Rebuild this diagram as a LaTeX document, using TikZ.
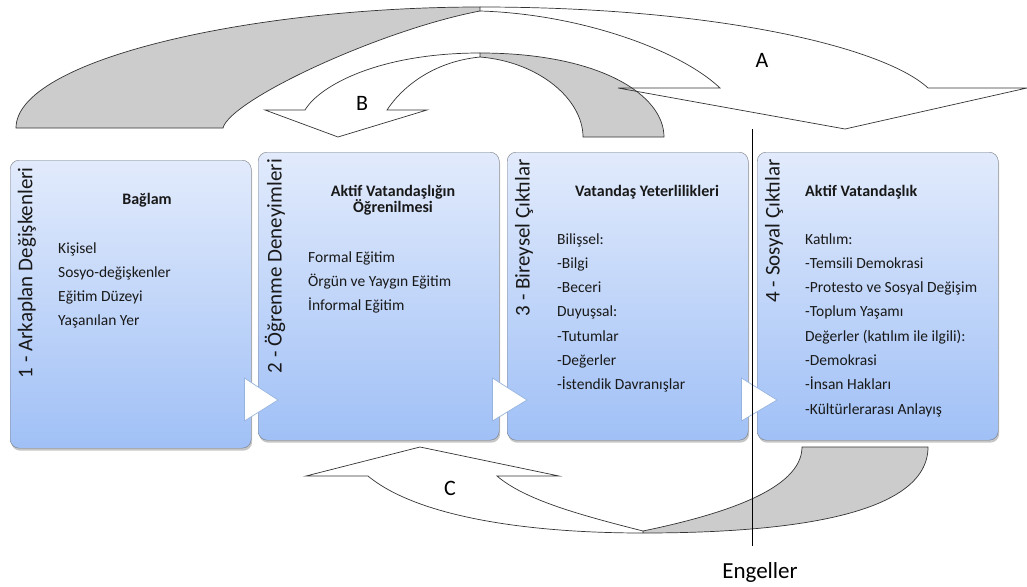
\documentclass[tikz,border=0pt]{standalone}
\usepackage{fontspec}
\setmainfont{Carlito}
\usepackage{tikz}
\usetikzlibrary{math,calc,shadows}
\definecolor{BoxTop}{RGB}{226,235,252}
\definecolor{BoxBottom}{RGB}{160,192,246}
\definecolor{BoxEdge}{RGB}{120,124,132}
\definecolor{ChevEdge}{RGB}{150,180,222}
\colorlet{textfg}{black!90}
\tikzset{%
  stage box/.style={draw=BoxEdge, rounded corners=9pt, top color=BoxTop,
    bottom color=BoxBottom, minimum width=241pt, minimum height=288pt,
    anchor=north west, inner sep=0pt,
    drop shadow={shadow xshift=1pt, shadow yshift=-2.5pt, opacity=0.45}},
  stage label/.style={rotate=90, anchor=east, inner sep=0pt, text=textfg,
    font=\fontsize{21}{25}\selectfont},
  box head/.style={inner sep=0pt, text height=10pt, text depth=0pt, text=textfg,
    font=\fontsize{16}{19}\selectfont\bfseries},
  box item/.style={anchor=west, inner sep=0pt, text height=10pt, text depth=0pt,
    text=textfg, font=\fontsize{15.5}{19}\selectfont},
  chevron/.style={fill=white, draw=ChevEdge, line width=0.7pt},
  back arc/.style={fill=gray!40, draw=black!80, line width=0.7pt},
  front arc/.style={draw=black!80, line width=0.7pt},
  arc letter/.style={inner sep=0pt, font=\fontsize{22}{22}\selectfont}
}

\begin{document}
\begin{tikzpicture}[x=1pt, y=-1pt]
  \useasboundingbox (0,0) rectangle (1027,586);
  \tikzmath{
    \dy=24.3; % line step in the boxes
    \back=7;  % chevron overlap into the left box
    \tip=20;  % chevron tip into the right box
  }
  % Arrow A:
  \draw[back arc] (16,128) .. controls (16,60) and (250,7) .. (480,7)
    -- (480,11) .. controls (380,30) and (230,100) .. (223,128) -- cycle;
  % Arrow B:
  \draw[back arc] (480,53) .. controls (600,53) and (664,95) .. (664,137)
    -- (583,137) .. controls (583,100) and (540,62) .. (480,57) -- cycle;
  \draw[front arc] (480,53) .. controls (380,53) and (320,85) .. (305,110)
    -- (265,110) -- (338,137) -- (427,110) -- (387,110)
    .. controls (400,90) and (430,62) .. (480,57);
  \draw[front arc] (480,7) .. controls (720,7) and (885,48) .. (928,88)
    -- (1027,88) -- (845,129) -- (618,88) -- (720,88)
    .. controls (680,50) and (580,14) .. (480,11);
  \node[arc letter] (labA) at (762,60) {A};
  \node[arc letter] (labB) at (362,103) {B};

  % Stages
  \node[stage box] (box1) at (10,160) {};
  \node[stage box] (box2) at (258,152) {};
  \node[stage box] (box3) at (507,152) {};
  \node[stage box] (box4) at (757,152) {};
  \foreach \a/\b in {box1/box2, box2/box3, box3/box4} {
    \draw[chevron] ($(\a.east |- 0,378)+(-\back,0)$) -- ($(\b.west |- 0,400)+(\tip,0)$)
      -- ($(\a.east |- 0,421)+(-\back,0)$) -- cycle;
  }
  \foreach \b/\t in {box1/1 - Arkaplan Değişkenleri, box2/2 - Öğrenme Deneyimleri,
                     box3/3 - Bireysel Çıktılar, box4/4 - Sosyal Çıktılar} {
    \node[stage label] (\b-label) at ($(\b.north west)+(17,7)$) {\t};
  }

  % Box 1:
  \node[box head] (head1) at (147,199) {Bağlam};
  \foreach \t [count=\i from 0] in {Kişisel, Sosyo-değişkenler, Eğitim Düzeyi, Yaşanılan Yer}
    \node[box item] (item1-\i) at (58,248+\dy*\i) {\t};
  % Box 2:
  \node[box head] (head2a) at (393,191) {Aktif Vatandaşlığın};
  \node[box head] (head2b) at (393,207) {Öğrenilmesi};
  \foreach \t [count=\i from 0] in {Formal Eğitim, Örgün ve Yaygın Eğitim, İnformal Eğitim}
    \node[box item] (item2-\i) at (308,257+\dy*\i) {\t};
  % Box 3:
  \node[box head] (head3) at (647,191) {Vatandaş Yeterlilikleri};
  \foreach \t [count=\i from 0] in {Bilişsel:, -Bilgi, -Beceri, Duyuşsal:, -Tutumlar,
                                    -Değerler, -İstendik Davranışlar}
    \node[box item] (item3-\i) at (557,239+\dy*\i) {\t};
  % Box 4:
  \node[box head, anchor=west] (head4) at (805,191) {Aktif Vatandaşlık};
  \foreach \t [count=\i from 0] in {Katılım:, -Temsili Demokrasi, -Protesto ve Sosyal Değişim,
                                    -Toplum Yaşamı, Değerler (katılım ile ilgili):, -Demokrasi,
                                    -İnsan Hakları, -Kültürlerarası Anlayış}
    \node[box item] (item4-\i) at (805,239+\dy*\i) {\t};

  % Arrow C:
  \draw[back arc] (643,531) .. controls (720,515) and (802,490) .. (802,447)
    -- (928,447) .. controls (928,515) and (790,533) .. (643,533) -- cycle;
  \draw[front arc] (643,533) .. controls (520,533) and (415,515) .. (368,476)
    -- (306,476) -- (420,447) -- (559,476) -- (497,476)
    .. controls (525,500) and (580,515) .. (643,531);
  \node[arc letter] (labC) at (450,488) {C};

  % Barriers line
  \coordinate (engtop) at (752,129);
  \coordinate (engbot) at (752,546);
  \node[font=\fontsize{23}{23}\selectfont, inner sep=0pt] (engeller) at (760,572) {Engeller};
  \draw[line width=0.8pt] (engtop) -- (engbot);
\end{tikzpicture}
\end{document}
